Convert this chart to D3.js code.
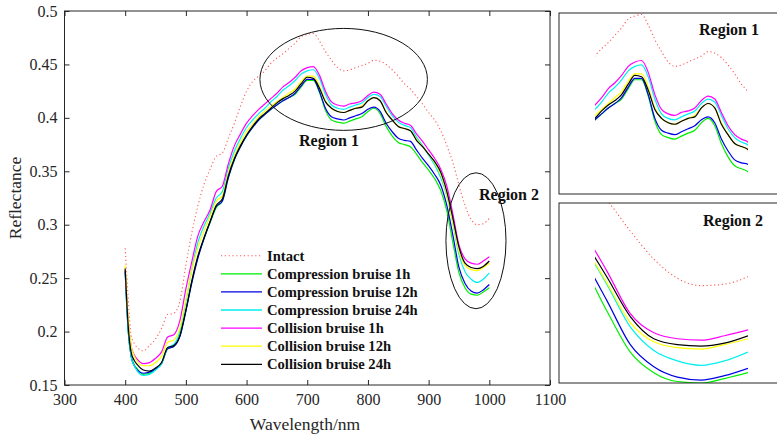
<!DOCTYPE html>
<html>
<head>
<meta charset="utf-8">
<script src="https://cdn.jsdelivr.net/npm/d3@7"></script>
<style>
  body { margin: 0; background: #fff; }
  svg { display: block; font-family: "Liberation Serif", "Times New Roman", serif; }
</style>
</head>
<body>
<svg id="chart" width="777" height="437"></svg>
<script>
// wavelengths (nm)
const wavelength = [400, 405, 410, 415, 420, 430, 440, 450, 460, 470, 480, 490, 500, 510, 520, 530, 540, 550, 560, 570,
  580, 590, 600, 610, 620, 630, 640, 650, 660, 670, 680, 690, 700, 710, 720, 730, 740, 750, 760, 770,
  780, 790, 800, 810, 820, 830, 840, 850, 860, 870, 880, 890, 900, 910, 920, 930, 940, 950, 960, 970,
  980, 990, 1000];

const intact = [0.278, 0.230, 0.196, 0.189, 0.185, 0.182, 0.187, 0.193, 0.203, 0.216, 0.217, 0.228, 0.262, 0.293, 0.318, 0.338, 0.352, 0.364, 0.367, 0.381,
  0.395, 0.411, 0.425, 0.434, 0.439, 0.444, 0.451, 0.456, 0.460, 0.465, 0.470, 0.476, 0.478, 0.479, 0.472, 0.462, 0.454, 0.447, 0.444, 0.445,
  0.447, 0.449, 0.451, 0.454, 0.453, 0.450, 0.445, 0.439, 0.432, 0.427, 0.420, 0.413, 0.405, 0.398, 0.388, 0.374, 0.358, 0.337, 0.318, 0.305,
  0.300, 0.301, 0.306];

const comp1h = [0.257, 0.202, 0.177, 0.169, 0.165, 0.160, 0.161, 0.165, 0.171, 0.184, 0.186, 0.196, 0.220, 0.247, 0.270, 0.287, 0.302, 0.316, 0.322, 0.344,
  0.361, 0.373, 0.383, 0.391, 0.398, 0.403, 0.408, 0.412, 0.416, 0.419, 0.422, 0.429, 0.435, 0.435, 0.424, 0.407, 0.398, 0.396, 0.395, 0.397,
  0.399, 0.401, 0.406, 0.409, 0.404, 0.392, 0.383, 0.377, 0.375, 0.373, 0.366, 0.358, 0.351, 0.343, 0.332, 0.313, 0.283, 0.255, 0.241, 0.235,
  0.234, 0.237, 0.241];

const comp12h = [0.256, 0.200, 0.176, 0.168, 0.164, 0.161, 0.162, 0.165, 0.170, 0.184, 0.186, 0.195, 0.219, 0.246, 0.269, 0.287, 0.303, 0.317, 0.322, 0.344,
  0.361, 0.373, 0.383, 0.391, 0.398, 0.403, 0.408, 0.412, 0.416, 0.419, 0.423, 0.430, 0.436, 0.436, 0.425, 0.409, 0.401, 0.399, 0.398, 0.400,
  0.402, 0.404, 0.408, 0.410, 0.406, 0.395, 0.387, 0.381, 0.379, 0.378, 0.370, 0.362, 0.355, 0.347, 0.337, 0.318, 0.290, 0.260, 0.245, 0.238,
  0.236, 0.239, 0.244];

const comp24h = [0.255, 0.200, 0.176, 0.168, 0.163, 0.159, 0.160, 0.164, 0.170, 0.185, 0.188, 0.200, 0.228, 0.259, 0.284, 0.299, 0.311, 0.325, 0.331, 0.353,
  0.369, 0.381, 0.391, 0.398, 0.404, 0.409, 0.415, 0.420, 0.426, 0.430, 0.435, 0.441, 0.444, 0.445, 0.437, 0.422, 0.412, 0.409, 0.408, 0.410,
  0.412, 0.414, 0.419, 0.422, 0.420, 0.411, 0.402, 0.396, 0.393, 0.391, 0.382, 0.374, 0.365, 0.356, 0.344, 0.327, 0.301, 0.272, 0.256, 0.249,
  0.246, 0.249, 0.255];

const col1h = [0.258, 0.210, 0.186, 0.178, 0.174, 0.170, 0.171, 0.175, 0.181, 0.195, 0.197, 0.210, 0.240, 0.266, 0.290, 0.303, 0.314, 0.331, 0.336, 0.357,
  0.374, 0.385, 0.395, 0.402, 0.408, 0.413, 0.418, 0.423, 0.429, 0.433, 0.438, 0.444, 0.447, 0.448, 0.440, 0.425, 0.415, 0.412, 0.411, 0.413,
  0.414, 0.416, 0.421, 0.424, 0.422, 0.413, 0.404, 0.398, 0.395, 0.393, 0.385, 0.378, 0.370, 0.362, 0.352, 0.336, 0.310, 0.281, 0.268, 0.264,
  0.263, 0.266, 0.270];

const col12h = [0.262, 0.212, 0.186, 0.177, 0.172, 0.168, 0.168, 0.171, 0.177, 0.190, 0.192, 0.203, 0.230, 0.258, 0.279, 0.294, 0.308, 0.322, 0.327, 0.349,
  0.365, 0.377, 0.387, 0.394, 0.401, 0.406, 0.411, 0.415, 0.419, 0.423, 0.427, 0.434, 0.439, 0.439, 0.430, 0.416, 0.409, 0.406, 0.405, 0.407,
  0.409, 0.411, 0.416, 0.419, 0.416, 0.406, 0.398, 0.392, 0.390, 0.388, 0.380, 0.373, 0.366, 0.358, 0.347, 0.328, 0.302, 0.275, 0.262, 0.258,
  0.257, 0.260, 0.264];

const col24h = [0.259, 0.205, 0.180, 0.173, 0.169, 0.164, 0.163, 0.166, 0.171, 0.185, 0.187, 0.196, 0.220, 0.248, 0.271, 0.288, 0.303, 0.318, 0.324, 0.346,
  0.362, 0.374, 0.384, 0.392, 0.399, 0.404, 0.409, 0.414, 0.418, 0.421, 0.425, 0.432, 0.438, 0.437, 0.428, 0.415, 0.409, 0.406, 0.405, 0.407,
  0.409, 0.410, 0.416, 0.419, 0.416, 0.405, 0.398, 0.392, 0.390, 0.388, 0.379, 0.373, 0.366, 0.359, 0.349, 0.331, 0.306, 0.279, 0.264, 0.260,
  0.259, 0.261, 0.266];

const seriesNames = ["Intact", "Compression bruise 1h", "Compression bruise 12h", "Compression bruise 24h",
  "Collision bruise 1h", "Collision bruise 12h", "Collision bruise 24h"];
const seriesValues = [intact, comp1h, comp12h, comp24h, col1h, col12h, col24h];
const seriesColors = ["#ff5a5a", "#00ee00", "#0000e6", "#00f0f0", "#ff00ff", "#ffff00", "#000000"];

const xTicks = [300, 400, 500, 600, 700, 800, 900, 1000, 1100];
const yTicks = [0.15, 0.2, 0.25, 0.3, 0.35, 0.4, 0.45, 0.5];
const yTickLabels = ["0.15", "0.2", "0.25", "0.3", "0.35", "0.4", "0.45", "0.5"];

// zoomed windows
const region1X = [640, 870], region1Y = [0.358, 0.480];
const region2X = [935, 1000], region2Y = [0.234, 0.356];

const svg = d3.select("#chart");
svg.append("rect").attr("width", 777).attr("height", 437).attr("fill", "#fff");

const L = 64.5, R = 550, T = 11, B = 385;
const x = d3.scaleLinear().domain([300, 1100]).range([L, R]);
const y = d3.scaleLinear().domain([0.15, 0.5]).range([B, T]);

function drawSeries(g, xs, ys) {
  const line = d3.line()
    .x((d, i) => xs(wavelength[i]))
    .y(d => ys(d))
    .curve(d3.curveMonotoneX);
  // intact first, then bruises, black on top
  seriesValues.forEach((vals, k) => {
    g.append("path")
      .datum(vals)
      .attr("d", line)
      .attr("fill", "none")
      .attr("stroke", seriesColors[k])
      .attr("stroke-width", k === 0 ? 1.1 : 1.2)
      .attr("stroke-dasharray", k === 0 ? "1.2,2.6" : null);
  });
}

const axisStyle = g => {
  g.select(".domain").remove();
  g.selectAll("line").attr("stroke", "#262626");
  g.selectAll("text").attr("font-family", "Liberation Serif, serif").attr("font-size", 16).attr("fill", "#262626");
};

svg.append("g").attr("transform", `translate(0,${B})`)
  .call(d3.axisBottom(x).tickValues(xTicks).tickSize(-5).tickPadding(9).tickFormat(d3.format("d")))
  .call(axisStyle);
svg.append("g").attr("transform", `translate(0,${T})`)
  .call(d3.axisTop(x).tickValues(xTicks).tickSize(-5).tickFormat(""))
  .call(axisStyle);
svg.append("g").attr("transform", `translate(${L},0)`)
  .call(d3.axisLeft(y).tickValues(yTicks).tickSize(-5).tickPadding(7).tickFormat((d, i) => yTickLabels[i]))
  .call(axisStyle);
svg.append("g").attr("transform", `translate(${R},0)`)
  .call(d3.axisRight(y).tickValues(yTicks).tickSize(-5).tickFormat(""))
  .call(axisStyle);

svg.append("clipPath").attr("id", "mainClip")
  .append("rect").attr("x", L).attr("y", T).attr("width", R - L).attr("height", B - T);
drawSeries(svg.append("g").attr("clip-path", "url(#mainClip)"), x, y);

svg.append("rect").attr("x", L).attr("y", T).attr("width", R - L).attr("height", B - T)
  .attr("fill", "none").attr("stroke", "#262626").attr("stroke-width", 1);

// axis titles
svg.append("text").attr("x", 305).attr("y", 430).attr("text-anchor", "middle")
  .attr("font-size", 17.5).attr("fill", "#262626").text("Wavelength/nm");
svg.append("text").attr("transform", "translate(21,198) rotate(-90)").attr("text-anchor", "middle")
  .attr("font-size", 17.5).attr("fill", "#262626").text("Reflectance");

// ellipses marking the zoomed regions
svg.append("ellipse")
  .attr("cx", x(760)).attr("cy", y(0.436))
  .attr("rx", x(760 + 138) - x(760)).attr("ry", y(0.436 - 0.0477) - y(0.436))
  .attr("fill", "none").attr("stroke", "#111").attr("stroke-width", 1);
svg.append("ellipse")
  .attr("cx", x(978)).attr("cy", y(0.285))
  .attr("rx", x(978 + 49.5) - x(978)).attr("ry", y(0.285 - 0.0636) - y(0.285))
  .attr("fill", "none").attr("stroke", "#111").attr("stroke-width", 1);

svg.append("text").attr("x", 299).attr("y", 146).attr("font-size", 16).attr("font-weight", "bold")
  .attr("fill", "#111").text("Region 1");
svg.append("text").attr("x", 479).attr("y", 200).attr("font-size", 16).attr("font-weight", "bold")
  .attr("fill", "#111").text("Region 2");

// legend
const legend = svg.append("g");
seriesNames.forEach((name, k) => {
  const ly = 255.7 + k * 18.1;
  legend.append("line").attr("x1", 221).attr("x2", 262).attr("y1", ly).attr("y2", ly)
    .attr("stroke", seriesColors[k]).attr("stroke-width", k === 0 ? 1.1 : 1.3)
    .attr("stroke-dasharray", k === 0 ? "1.2,2.6" : null);
  legend.append("text").attr("x", 267).attr("y", ly).attr("dy", "0.34em")
    .attr("font-size", 14.6).attr("font-weight", "bold").attr("fill", "#111").text(name);
});

// insets
function drawInset(id, top, bottom, xDom, yDom, label, labelX, labelY) {
  const ix = d3.scaleLinear().domain(xDom).range([595, 748]);
  const iy = d3.scaleLinear().domain(yDom).range([bottom, top]);
  svg.append("clipPath").attr("id", id)
    .append("rect").attr("x", ix(xDom[0])).attr("y", top).attr("width", ix(xDom[1]) - ix(xDom[0])).attr("height", bottom - top);
  drawSeries(svg.append("g").attr("clip-path", `url(#${id})`), ix, iy);
  svg.append("rect").attr("x", 559).attr("y", top).attr("width", 240).attr("height", bottom - top)
    .attr("fill", "none").attr("stroke", "#262626").attr("stroke-width", 1);
  svg.append("text").attr("x", labelX).attr("y", labelY).attr("font-size", 16).attr("font-weight", "bold")
    .attr("fill", "#111").text(label);
}
drawInset("inset1", 13, 194, region1X, region1Y, "Region 1", 699, 35);
drawInset("inset2", 203, 383, region2X, region2Y, "Region 2", 703, 226);
</script>
</body>
</html>
